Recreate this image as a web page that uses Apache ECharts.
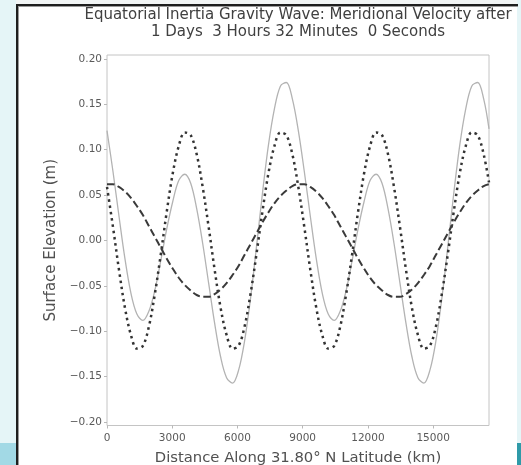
<!DOCTYPE html>
<html><head><meta charset="utf-8">
<script src="https://cdn.jsdelivr.net/npm/echarts@6/dist/echarts.min.js"></script>
<style>html,body{margin:0;padding:0;background:#fff}#c{width:521px;height:465px}</style>
</head><body><div id="c"></div>
<script>
const titleText = "Equatorial Inertia Gravity Wave: Meridional Velocity after\n1 Days  3 Hours 32 Minutes  0 Seconds";
const xAxisTitle = "Distance Along 31.80\u00b0 N Latitude (km)";
const yAxisTitle = "Surface Elevation (m)";
const xTicks = [0, 3000, 6000, 9000, 12000, 15000];
const yTicks = [-0.2, -0.15, -0.1, -0.05, 0, 0.05, 0.1, 0.15, 0.2];

const distanceKm = [0, 275, 550, 825, 1100, 1375, 1650, 1925, 2200, 2475, 2750, 3025, 3300, 3575, 3850, 4125,
  4400, 4675, 4950, 5225, 5500, 5775, 6050, 6325, 6600, 6875, 7150, 7425, 7700, 7975, 8250, 8525,
  8800, 9075, 9350, 9625, 9900, 10175, 10450, 10725, 11000, 11275, 11550, 11825, 12100, 12375, 12650, 12925,
  13200, 13475, 13750, 14025, 14300, 14575, 14850, 15125, 15400, 15675, 15950, 16225, 16500, 16775, 17050, 17325,
  17570];

// solid light grey curve
const solidTotal = [0.121, 0.076, 0.027, -0.020, -0.058, -0.081, -0.088, -0.078, -0.055, -0.022, 0.013, 0.043, 0.066, 0.073, 0.063, 0.035,
  -0.003, -0.047, -0.091, -0.128, -0.151, -0.157, -0.143, -0.111, -0.064, -0.007, 0.052, 0.105, 0.145, 0.170, 0.174, 0.156,
  0.121, 0.076, 0.027, -0.020, -0.058, -0.081, -0.088, -0.078, -0.055, -0.022, 0.013, 0.043, 0.066, 0.073, 0.063, 0.035,
  -0.003, -0.047, -0.091, -0.128, -0.151, -0.157, -0.143, -0.111, -0.064, -0.007, 0.052, 0.105, 0.145, 0.170, 0.174, 0.156,
  0.123];

// dotted dark curve
const dottedWave = [0.059, 0.015, -0.032, -0.074, -0.104, -0.119, -0.116, -0.095, -0.059, -0.015, 0.032, 0.074, 0.104, 0.119, 0.116, 0.095,
  0.059, 0.015, -0.032, -0.074, -0.104, -0.119, -0.116, -0.095, -0.059, -0.015, 0.032, 0.074, 0.104, 0.119, 0.116, 0.095,
  0.059, 0.015, -0.032, -0.074, -0.104, -0.119, -0.116, -0.095, -0.059, -0.015, 0.032, 0.074, 0.104, 0.119, 0.116, 0.095,
  0.059, 0.015, -0.032, -0.074, -0.104, -0.119, -0.116, -0.095, -0.059, -0.015, 0.032, 0.074, 0.104, 0.119, 0.116, 0.095,
  0.064];

// dashed dark curve
const dashedWave = [0.062, 0.062, 0.059, 0.054, 0.047, 0.038, 0.028, 0.016, 0.004, -0.008, -0.020, -0.031, -0.041, -0.049, -0.055, -0.060,
  -0.062, -0.062, -0.059, -0.054, -0.047, -0.038, -0.028, -0.016, -0.004, 0.008, 0.020, 0.031, 0.041, 0.049, 0.055, 0.060,
  0.062, 0.062, 0.059, 0.054, 0.047, 0.038, 0.028, 0.016, 0.004, -0.008, -0.020, -0.031, -0.041, -0.049, -0.055, -0.060,
  -0.062, -0.062, -0.059, -0.054, -0.047, -0.038, -0.028, -0.016, -0.004, 0.008, 0.020, 0.031, 0.041, 0.049, 0.055, 0.060,
  0.062];

const pairs = arr => distanceKm.map((x, i) => [x, arr[i]]);
const FONT = '"DejaVu Sans", "Liberation Sans", sans-serif';

const chart = echarts.init(document.getElementById('c'), null, {renderer: 'canvas'});
chart.setOption({
  animation: false,
  backgroundColor: '#ffffff',
  title: {
    text: titleText, left: 298, top: 7, textAlign: 'center', padding: 0,
    textStyle: {fontFamily: FONT, fontSize: 15, fontWeight: 'normal', color: '#404040', lineHeight: 17}
  },
  grid: {left: 107, right: 32, top: 55, bottom: 39.5, show: true, borderColor: '#c4c4c4', borderWidth: 1,
    backgroundColor: 'transparent', containLabel: false, outerBoundsMode: 'none'},
  xAxis: {
    type: 'value', min: 0, max: 17570,
    name: xAxisTitle, nameLocation: 'middle', nameGap: 25,
    nameTextStyle: {fontFamily: FONT, fontSize: 14.8, color: '#505050'},
    axisLine: {show: false, onZero: false},
    axisTick: {show: true, length: 3, customValues: xTicks, lineStyle: {color: '#b8b8b8'}},
    axisLabel: {customValues: xTicks, margin: 7, fontFamily: FONT, fontSize: 10.5, color: '#5a5a5a',
      formatter: v => String(Math.round(v))},
    splitLine: {show: false}
  },
  yAxis: {
    type: 'value', min: -0.2037, max: 0.2043,
    name: yAxisTitle, nameLocation: 'middle', nameGap: 39,
    nameTextStyle: {fontFamily: FONT, fontSize: 15, color: '#505050'},
    axisLine: {show: false, onZero: false},
    axisTick: {show: true, length: 3, customValues: yTicks, lineStyle: {color: '#b8b8b8'}},
    axisLabel: {customValues: yTicks, margin: 5, fontFamily: FONT, fontSize: 10.5, color: '#5a5a5a',
      formatter: v => (v < -1e-9 ? '\u2212' : '') + Math.abs(v).toFixed(2)},
    splitLine: {show: false}
  },
  graphic: [
    {type: 'rect', z: -10, shape: {x: 0, y: 0, width: 16, height: 465}, style: {fill: '#e5f5f7'}},
    {type: 'rect', z: -10, shape: {x: 0, y: 443, width: 16, height: 22}, style: {fill: '#a2d9e5'}},
    {type: 'rect', z: -10, shape: {x: 517, y: 0, width: 4, height: 465}, style: {fill: '#e5f5f7'}},
    {type: 'rect', z: -10, shape: {x: 517, y: 443, width: 4, height: 22}, style: {fill: '#2f9aa8'}},
    {type: 'rect', z: -10, shape: {x: 16, y: 0, width: 501, height: 4}, style: {fill: '#f2f5f5'}},
    {type: 'rect', z: -9, shape: {x: 16, y: 4, width: 502, height: 2}, style: {fill: '#1e1e1e'}},
    {type: 'rect', z: -9, shape: {x: 16, y: 6, width: 502, height: 1}, style: {fill: '#9a9a9a'}},
    {type: 'rect', z: -9, shape: {x: 16, y: 4, width: 2, height: 461}, style: {fill: '#1e1e1e'}},
    {type: 'rect', z: -9, shape: {x: 18, y: 6, width: 1, height: 459}, style: {fill: '#9a9a9a'}}
  ],
  series: [
    {type: 'line', data: pairs(solidTotal), showSymbol: false, smooth: 0.35, clip: true,
      lineStyle: {color: '#b3b3b3', width: 1.3}, z: 2},
    {type: 'line', data: pairs(dottedWave), showSymbol: false, smooth: 0.35, clip: true,
      lineStyle: {color: '#333333', width: 2.5, type: [2.5, 3.8]}, z: 3},
    {type: 'line', data: pairs(dashedWave), showSymbol: false, smooth: 0.35, clip: true,
      lineStyle: {color: '#3a3a3a', width: 2, type: [7.5, 3.5]}, z: 4}
  ]
});
</script></body></html>
